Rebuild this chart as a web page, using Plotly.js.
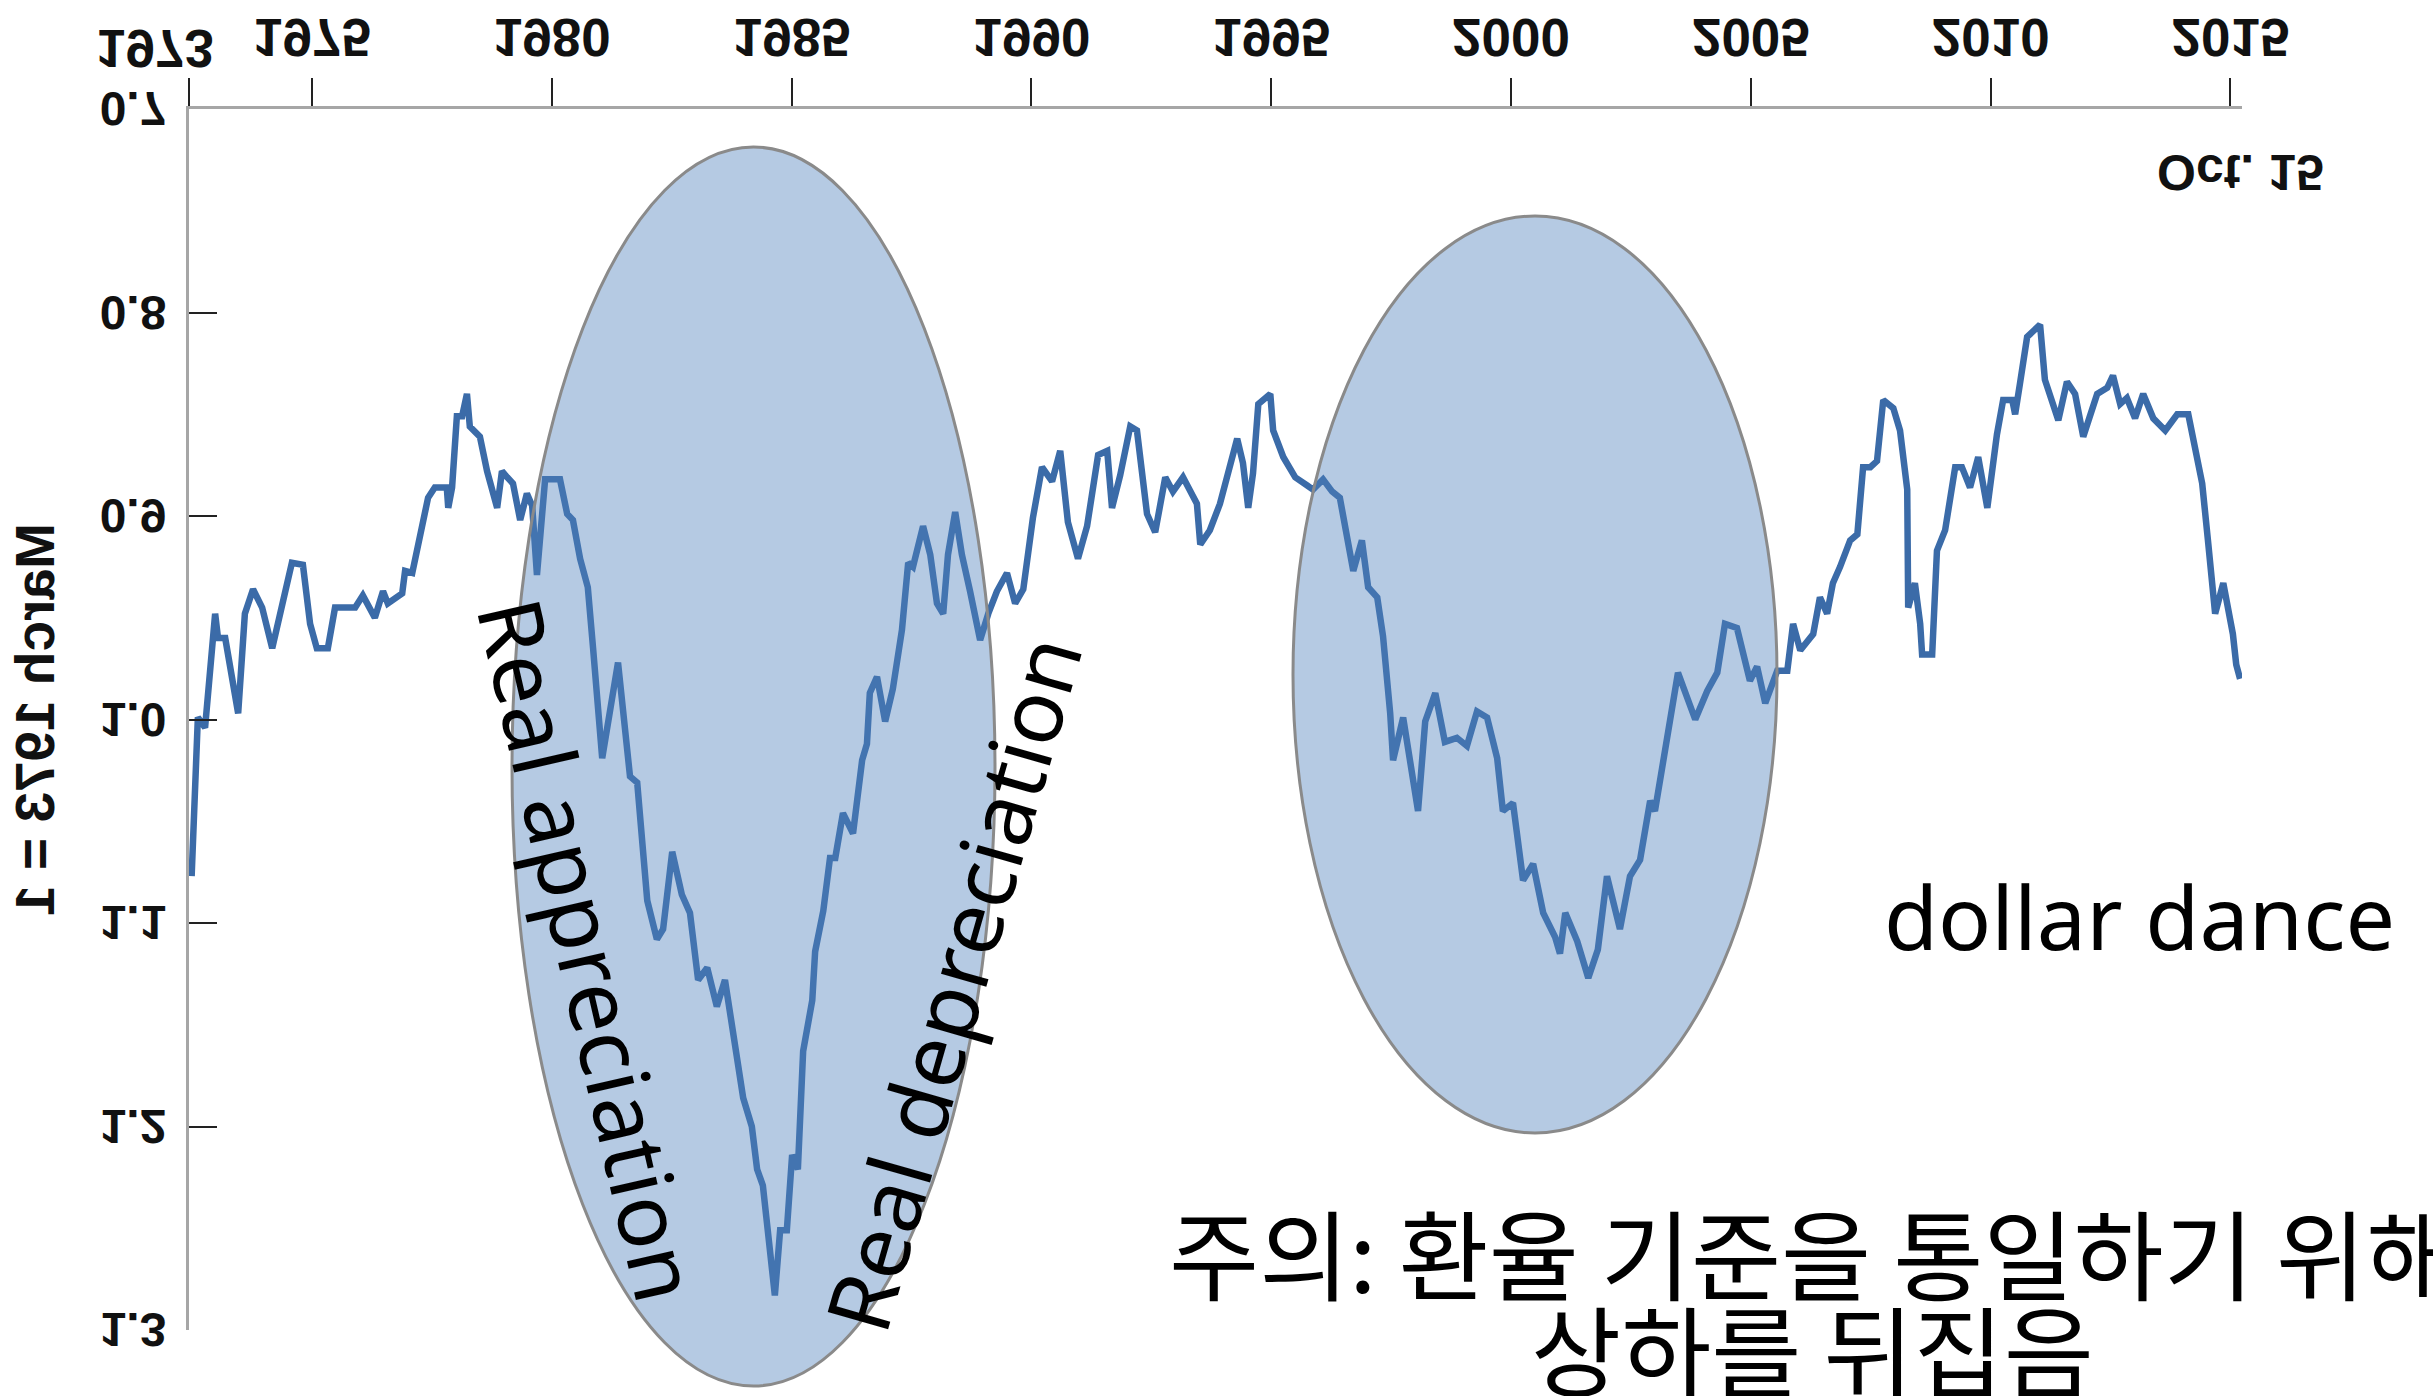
<!DOCTYPE html>
<html>
<head>
<meta charset="utf-8">
<script src="https://cdn.plot.ly/plotly-3.0.1.min.js"></script>
<style>
  html, body { margin: 0; padding: 0; background: #ffffff; overflow: hidden; }
  #chart, #notes { position: absolute; left: 0; top: 0; width: 2433px; height: 1396px; }
  #chart { transform: scaleY(-1); transform-origin: 50% 50%; }
  #notes { pointer-events: none; }
</style>
</head>
<body>
<div id="chart"></div>
<div id="notes"></div>
<script>
// ---- data ----
const years = [
  1972.49,1972.56,1972.62,1972.77,1972.87,1972.98,1973.04,1973.19,1973.46,1973.60,
  1973.77,1973.96,1974.17,1974.37,1974.58,1974.81,1974.96,1975.10,1975.33,1975.48,
  1975.90,1976.06,1976.31,1976.48,1976.58,1976.88,1976.94,1977.09,1977.21,1977.42,
  1977.56,1977.81,1977.84,1977.92,1978.02,1978.13,1978.23,1978.29,1978.50,1978.65,
  1978.86,1978.96,1979.07,1979.19,1979.34,1979.48,1979.59,1979.69,1979.86,1980.17,
  1980.32,1980.44,1980.59,1980.75,1980.86,1981.05,1981.38,1981.63,1981.78,1981.99,
  1982.19,1982.32,1982.51,1982.71,1982.88,1983.05,1983.24,1983.44,1983.61,1983.78,
  1983.99,1984.17,1984.28,1984.40,1984.65,1984.76,1984.90,1985.01,1985.13,1985.24,
  1985.43,1985.49,1985.66,1985.80,1985.91,1986.07,1986.28,1986.47,1986.57,1986.63,
  1986.78,1986.95,1987.11,1987.30,1987.43,1987.53,1987.74,1987.89,1988.03,1988.16,
  1988.26,1988.41,1988.55,1988.72,1988.82,1988.93,1989.10,1989.28,1989.49,1989.66,
  1989.83,1990.03,1990.22,1990.43,1990.60,1990.76,1990.97,1991.16,1991.39,1991.58,
  1991.68,1991.85,1992.06,1992.20,1992.41,1992.58,1992.79,1992.95,1993.16,1993.45,
  1993.52,1993.72,1993.93,1994.08,1994.29,1994.41,1994.52,1994.62,1994.73,1994.98,
  1995.04,1995.25,1995.50,1995.75,1995.87,1996.08,1996.27,1996.43,1996.58,1996.71,
  1996.89,1997.02,1997.21,1997.33,1997.48,1997.54,1997.75,1997.94,1998.06,1998.21,
  1998.42,1998.62,1998.87,1999.08,1999.29,1999.50,1999.71,1999.83,2000.04,2000.25,
  2000.46,2000.67,2000.92,2001.02,2001.13,2001.38,2001.61,2001.81,2002.00,2002.27,
  2002.48,2002.69,2002.90,2003.00,2003.25,2003.48,2003.84,2004.09,2004.30,2004.46,
  2004.71,2004.98,2005.13,2005.30,2005.55,2005.76,2005.88,2006.03,2006.30,2006.44,
  2006.59,2006.71,2006.86,2007.07,2007.22,2007.34,2007.49,2007.63,2007.76,2007.97,
  2008.11,2008.26,2008.28,2008.42,2008.53,2008.57,2008.78,2008.88,2009.05,2009.26,
  2009.40,2009.57,2009.74,2009.93,2010.13,2010.26,2010.45,2010.51,2010.61,2010.76,
  2011.03,2011.13,2011.41,2011.59,2011.76,2011.93,2012.22,2012.43,2012.55,2012.70,
  2012.84,2013.01,2013.18,2013.39,2013.64,2013.89,2014.12,2014.30,2014.41,2014.53,
  2014.68,2014.85,2015.05,2015.12,2015.20
];
const realRate = [
  1.077,1.030,0.999,1.004,0.976,0.948,0.960,0.960,0.997,0.948,
  0.936,0.945,0.965,0.943,0.923,0.924,0.953,0.965,0.965,0.945,
  0.945,0.939,0.950,0.937,0.943,0.938,0.927,0.928,0.913,0.891,
  0.886,0.886,0.896,0.886,0.851,0.851,0.840,0.856,0.861,0.878,
  0.896,0.878,0.881,0.884,0.902,0.889,0.895,0.929,0.882,0.882,
  0.899,0.902,0.921,0.935,0.965,1.019,0.972,1.028,1.031,1.089,
  1.108,1.103,1.065,1.086,1.095,1.128,1.122,1.141,1.128,1.155,
  1.186,1.200,1.221,1.229,1.283,1.251,1.251,1.214,1.221,1.163,
  1.138,1.114,1.094,1.068,1.068,1.046,1.056,1.020,1.012,0.987,
  0.979,1.001,0.985,0.956,0.923,0.925,0.905,0.919,0.943,0.948,
  0.919,0.898,0.919,0.937,0.950,0.961,0.948,0.937,0.928,0.943,
  0.936,0.901,0.876,0.883,0.868,0.903,0.921,0.905,0.870,0.868,
  0.896,0.880,0.856,0.858,0.899,0.908,0.881,0.888,0.881,0.894,
  0.914,0.907,0.894,0.880,0.862,0.874,0.896,0.879,0.845,0.840,
  0.858,0.871,0.881,0.885,0.887,0.882,0.888,0.891,0.912,0.927,
  0.912,0.935,0.940,0.959,0.997,1.020,0.999,1.029,1.045,1.001,
  0.987,1.011,1.009,1.013,0.996,0.999,1.019,1.045,1.041,1.079,
  1.071,1.095,1.107,1.115,1.095,1.109,1.127,1.113,1.077,1.103,
  1.077,1.069,1.040,1.045,1.010,0.977,1.000,0.986,0.977,0.953,
  0.955,0.981,0.974,0.992,0.976,0.976,0.953,0.966,0.958,0.940,
  0.948,0.933,0.925,0.912,0.909,0.876,0.876,0.873,0.843,0.847,
  0.858,0.887,0.945,0.933,0.953,0.968,0.968,0.917,0.907,0.876,
  0.876,0.886,0.871,0.896,0.860,0.843,0.843,0.850,0.835,0.812,
  0.806,0.833,0.853,0.834,0.840,0.861,0.840,0.837,0.831,0.845,
  0.842,0.852,0.840,0.852,0.858,0.850,0.850,0.871,0.884,0.912,
  0.948,0.933,0.958,0.973,0.980
];
const axisStart = 1972.435;
const firstYearLabel = '1973';
const xTickVals = [axisStart, 1975, 1980, 1985, 1990, 1995, 2000, 2005, 2010, 2015];
const xTickText = ['', '1975', '1980', '1985', '1990', '1995', '2000', '2005', '2010', '2015'];
const yTickVals = [0.7, 0.8, 0.9, 1.0, 1.1, 1.2, 1.3];
const yTickText = ['0.7', '0.8', '0.9', '1.0', '1.1', '1.2', '1.3'];
const yTitle = 'March 1973 = 1';
const endLabel = 'Oct. 15';
const noteAppreciation = 'Real appreciation';
const noteDepreciation = 'Real depreciation';
const noteDance = 'dollar dance';
const noteKo1 = '주의: 환율 기준을 통일하기 위해';
const noteKo2 = '상하를 뒤집음';

// ---- the chart (drawn upright, then mirrored top-to-bottom like the reference) ----
const xTickFont = { family: 'Liberation Sans, Arial, sans-serif', size: 53, color: '#111111', weight: 'bold' };
const yTickFont = { family: 'Liberation Sans, Arial, sans-serif', size: 48, color: '#111111', weight: 'bold' };
const chartTrace = {
  type: 'scatter', mode: 'lines',
  x: years, y: realRate,
  line: { color: '#3b6ba8', width: 6.5 },
  hoverinfo: 'skip'
};
const chartLayout = {
  width: 2433, height: 1396,
  margin: { l: 189, r: 191, t: 66, b: 109 },
  paper_bgcolor: '#ffffff', plot_bgcolor: '#ffffff',
  showlegend: false,
  xaxis: {
    range: [axisStart, 2015.24],
    tickmode: 'array', tickvals: xTickVals, ticktext: xTickText, tickangle: 0,
    ticks: 'outside', ticklen: 28, tickwidth: 2, tickcolor: '#222222',
    showline: true, linecolor: '#a6a6a6', linewidth: 3,
    showgrid: false, zeroline: false,
    tickfont: xTickFont, ticklabelstandoff: -5
  },
  yaxis: {
    range: [0.7, 1.3],
    tickmode: 'array', tickvals: yTickVals, ticktext: yTickText,
    ticks: 'inside', ticklen: 28, tickwidth: 2, tickcolor: '#222222',
    showline: true, linecolor: '#a6a6a6', linewidth: 3,
    showgrid: false, zeroline: false,
    tickfont: yTickFont, ticklabelstandoff: 10,
    title: { text: '<b>' + yTitle + '</b>', standoff: 28,
             font: { family: 'Liberation Sans, Arial, sans-serif', size: 55, color: '#111111' } }
  },
  annotations: [
    { xref: 'x', yref: 'y', x: years[years.length - 1], y: 0.731,
      text: endLabel, showarrow: false, xanchor: 'center', yanchor: 'middle',
      font: { family: 'Liberation Sans, Arial, sans-serif', size: 50, color: '#111111', weight: 'bold' } },
    { xref: 'x', yref: 'paper', x: axisStart, y: -0.0495, xshift: -34,
      text: firstYearLabel, showarrow: false, xanchor: 'center', yanchor: 'middle',
      font: xTickFont }
  ]
};
Plotly.newPlot('chart', [chartTrace], chartLayout, { staticPlot: true, displayModeBar: false });

// ---- the notes drawn over the chart (ellipses and text), in page pixels ----
const noteFont = { family: 'Noto Sans, Noto Sans CJK KR, sans-serif', color: '#000000' };
const koFont = { family: 'Noto Sans CJK KR, sans-serif', size: 98, color: '#000000' };
const ellipseStyle = { fillcolor: 'rgba(79,129,189,0.42)', line: { color: '#8a8a8a', width: 3 }, layer: 'above' };
const notesLayout = {
  width: 2433, height: 1396,
  margin: { l: 0, r: 0, t: 0, b: 0 },
  paper_bgcolor: 'rgba(0,0,0,0)', plot_bgcolor: 'rgba(0,0,0,0)',
  showlegend: false,
  xaxis: { range: [0, 2433], visible: false, fixedrange: true },
  yaxis: { range: [1396, 0], visible: false, fixedrange: true },
  shapes: [
    Object.assign({ type: 'circle', xref: 'x', yref: 'y', x0: 512, x1: 995, y0: 147, y1: 1386 }, ellipseStyle),
    Object.assign({ type: 'circle', xref: 'x', yref: 'y', x0: 1293, x1: 1777, y0: 216, y1: 1133 }, ellipseStyle)
  ],
  annotations: [
    { xref: 'x', yref: 'y', x: 590, y: 950, text: noteAppreciation, textangle: 77,
      showarrow: false, xanchor: 'center', yanchor: 'middle', font: Object.assign({ size: 88 }, noteFont) },
    { xref: 'x', yref: 'y', x: 952, y: 983, text: noteDepreciation, textangle: -74,
      showarrow: false, xanchor: 'center', yanchor: 'middle', font: Object.assign({ size: 88 }, noteFont) },
    { xref: 'x', yref: 'y', x: 2139, y: 916, text: noteDance,
      showarrow: false, xanchor: 'center', yanchor: 'middle', font: Object.assign({ size: 88 }, noteFont) },
    { xref: 'x', yref: 'y', x: 1812, y: 1250, text: noteKo1,
      showarrow: false, xanchor: 'center', yanchor: 'middle', font: koFont },
    { xref: 'x', yref: 'y', x: 1812, y: 1346, text: noteKo2,
      showarrow: false, xanchor: 'center', yanchor: 'middle', font: koFont }
  ]
};
Plotly.newPlot('notes', [], notesLayout, { staticPlot: true, displayModeBar: false });
</script>
</body>
</html>
